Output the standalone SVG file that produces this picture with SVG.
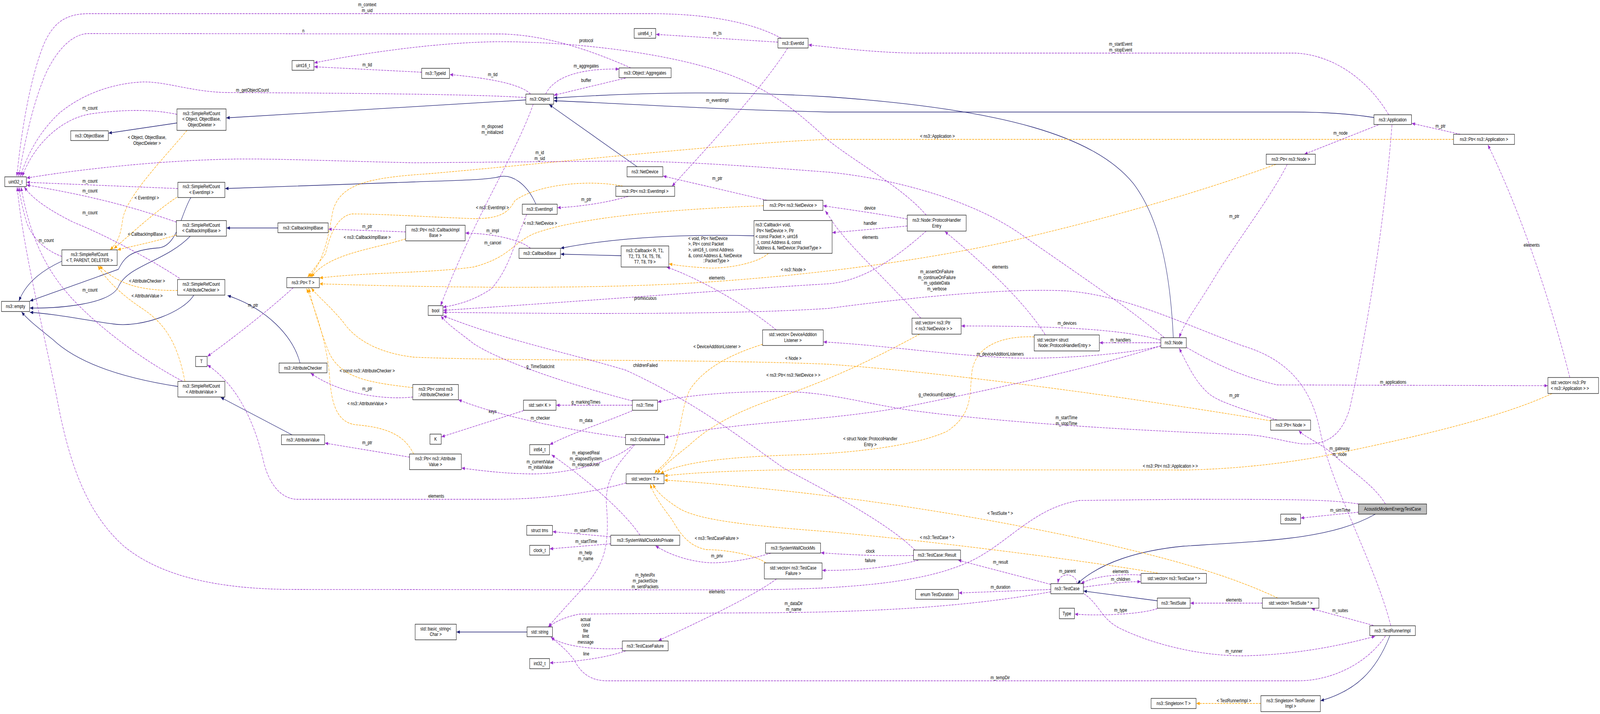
<svg xmlns="http://www.w3.org/2000/svg" width="5407" height="1829" viewBox="0 0 5407 1829" preserveAspectRatio="none">
<defs>
<style>
svg:root{width:100vw;height:100vh;display:block}
text{font-family:"Liberation Sans",Arial,Helvetica,sans-serif;font-size:13.33px;fill:#000}
.n rect{fill:#fff;stroke:#000;stroke-width:1.2}
.n text{text-anchor:middle}
.n text.l{text-anchor:start}
.n.g rect{fill:#bfbfbf}
#edges path{fill:none;stroke-width:1.3}
#edges .inh{stroke:#191970;marker-end:url(#mb)}
#edges .use{stroke:#9a32cd;stroke-dasharray:7,3;marker-end:url(#mp)}
#edges .tpl{stroke:#ffa500;stroke-dasharray:7,3;marker-end:url(#mo)}
#edges text{text-anchor:middle}
#edges text.l{text-anchor:start}
</style>
<marker id="mb" viewBox="0 0 10 8" refX="10" refY="4" markerWidth="11" markerHeight="9" markerUnits="userSpaceOnUse" orient="auto"><path d="M0,0L10,4L0,8z" fill="#191970"/></marker>
<marker id="mp" viewBox="0 0 10 8" refX="10" refY="4" markerWidth="11" markerHeight="9" markerUnits="userSpaceOnUse" orient="auto"><path d="M0,0L10,4L0,8z" fill="#9a32cd"/></marker>
<marker id="mo" viewBox="0 0 10 8" refX="10" refY="4" markerWidth="11" markerHeight="9" markerUnits="userSpaceOnUse" orient="auto"><path d="M0,0L10,4L0,8z" fill="#ffa500"/></marker>
</defs>
<rect width="5407" height="1829" fill="#fff"/>
<g id="edges">
<path class="inh" d="M598,315 L367,341"/>
<path class="inh" d="M1777,256 L765,302"/>
<path class="inh" d="M209,669 C150,690 90,720 64,771"/>
<path class="inh" d="M645,506 C610,550 600,630 536,635 C440,640 420,660 400,690 L101,771"/>
<path class="inh" d="M939,584 L766,584"/>
<path class="inh" d="M643,605 C560,670 430,680 400,735 C370,780 200,790 101,789"/>
<path class="inh" d="M655,756 C620,800 480,840 384,830 C300,822 200,805 101,800"/>
<path class="inh" d="M601,990 C430,970 270,935 179,870 C130,840 95,820 73,799"/>
<path class="inh" d="M1811,523 C1780,470 1730,445 1686,453 C1640,462 1500,463 1400,466 L761,483"/>
<path class="inh" d="M1014,930 C990,860 900,790 769,757"/>
<path class="inh" d="M987,1114 L746,1018"/>
<path class="inh" d="M2153,427 L1856,268"/>
<path class="inh" d="M3965,865 C3955,700 3920,560 3830,470 C3700,350 3400,280 2800,248 C2400,230 2100,240 1872,251"/>
<path class="inh" d="M4643,301 C4550,290 4450,287 4370,287 L2800,287 C2400,280 2100,265 1872,258"/>
<path class="inh" d="M2548,604 C2350,600 2100,605 1895,636"/>
<path class="inh" d="M2099,655 L1895,651"/>
<path class="inh" d="M4648,1317 C4500,1380 4300,1385 4000,1399 C3850,1410 3720,1440 3641,1495"/>
<path class="inh" d="M3911,1539 L3662,1514"/>
<path class="inh" d="M4697,1628 C4650,1720 4580,1770 4463,1795"/>
<path class="inh" d="M1781,1619 L1543,1619"/>
<path class="tpl" d="M632,334 C560,400 430,500 415,560 C408,600 400,620 372,640"/>
<text x="497" y="356.5">&lt; Object, ObjectBase,</text><text x="497" y="371.5">ObjectDeleter &gt;</text>
<path class="tpl" d="M598,505 C530,540 470,580 385,637"/>
<text x="496" y="511.5">&lt; EventImpl &gt;</text>
<path class="tpl" d="M596,602 C520,620 450,630 397,640"/>
<text x="497" y="604.5">&lt; CallbackImplBase &gt;</text>
<path class="tpl" d="M600,744 C480,745 400,730 336,681"/>
<text x="497" y="724.5">&lt; AttributeChecker &gt;</text>
<path class="tpl" d="M625,977 C600,880 560,830 480,790 C420,760 360,720 331,681"/>
<text x="497" y="762.5">&lt; AttributeValue &gt;</text>
<path class="tpl" d="M1371,612 C1250,640 1110,650 1052,710"/>
<text x="1241" y="612.5">&lt; ns3::CallbackImplBase &gt;</text>
<path class="tpl" d="M2105,477 C2000,460 1820,470 1740,514 C1720,540 1700,560 1605,560 C1500,558 1300,548 1188,548 C1140,555 1115,600 1100,650 L1040,710"/>
<text x="1664" y="536.5">&lt; ns3::EventImpl &gt;</text>
<path class="tpl" d="M2580,527 C2300,535 1950,555 1800,600 C1730,625 1720,660 1600,684 C1450,700 1250,697 1080,712"/>
<text x="1826" y="576.5">&lt; ns3::NetDevice &gt;</text>
<path class="tpl" d="M4312,421 C4100,480 3800,550 3400,620 C3100,670 2700,710 2293,727 C1900,742 1400,735 1080,727"/>
<text x="2681" y="695.5">&lt; ns3::Node &gt;</text>
<path class="tpl" d="M4912,357 L2800,357 C2500,365 1900,415 1450,445 C1250,455 1150,470 1125,540 C1110,600 1100,660 1046,710"/>
<text x="3168" y="353.5">&lt; ns3::Application &gt;</text>
<path class="tpl" d="M1395,993 C1250,980 1150,970 1110,900 C1080,840 1060,790 1043,738"/>
<text x="1241" y="954.5">&lt; const ns3::AttributeChecker &gt;</text>
<path class="tpl" d="M1398,1163 C1370,1120 1320,1095 1200,1088 C1130,1080 1120,1020 1114,968 C1108,900 1080,820 1036,739"/>
<text x="1241" y="1038.5">&lt; ns3::AttributeValue &gt;</text>
<path class="tpl" d="M4294,1078 C4000,1040 3300,960 2800,933 C2400,920 1700,925 1400,915 C1280,905 1200,870 1160,825 C1110,780 1075,760 1052,738"/>
<text x="2681" y="922.5">&lt; Node &gt;</text>
<path class="tpl" d="M2597,649 C2560,675 2450,690 2382,686 C2320,683 2290,680 2261,676"/>
<text class="l" x="2326" y="615.5">&lt; void, Ptr&lt; NetDevice</text><text class="l" x="2326" y="629.5">&gt;, Ptr&lt; const Packet</text><text class="l" x="2326" y="644.5">&gt;, uint16_t, const Address</text><text class="l" x="2326" y="659">&amp;, const Address &amp;, NetDevice</text><text x="2420" y="672.5">::PacketType &gt;</text>
<path class="tpl" d="M3495,863 C3400,860 3300,880 3285,950 C3275,1010 3290,1060 3200,1105 C3100,1140 2900,1160 2700,1165 C2450,1170 2300,1185 2232,1213"/>
<text x="2941" y="1128.5">&lt; struct Node::ProtocolHandler</text><text x="2941" y="1143.5">Entry &gt;</text>
<path class="tpl" d="M2577,882 C2480,905 2380,940 2330,1000 C2300,1050 2300,1120 2270,1165 C2250,1190 2225,1200 2212,1213"/>
<text x="2423" y="892.5">&lt; DeviceAdditionListener &gt;</text>
<path class="tpl" d="M3108,856 C3000,900 2850,960 2650,1013 C2500,1050 2400,1090 2330,1140 C2280,1170 2240,1195 2221,1213"/>
<text x="2681" y="965.5">&lt; ns3::Ptr&lt; ns3::NetDevice &gt; &gt;</text>
<path class="tpl" d="M5245,1008 C5100,1060 4850,1110 4500,1164 C4300,1195 4100,1203 4000,1204 L2700,1203 C2500,1205 2350,1210 2245,1219"/>
<text x="3955" y="1198.5">&lt; ns3::Ptr&lt; ns3::Application &gt; &gt;</text>
<path class="tpl" d="M3912,1468 C3700,1440 3200,1390 2800,1362 C2500,1345 2350,1330 2290,1300 C2240,1275 2220,1260 2206,1240"/>
<text x="3167" y="1381.5">&lt; ns3::TestCase * &gt;</text>
<path class="tpl" d="M2588,1442 C2550,1420 2450,1408 2388,1408 C2330,1400 2300,1370 2270,1330 C2240,1300 2210,1270 2197,1240"/>
<text x="2422" y="1383.5">&lt; ns3::TestCaseFailure &gt;</text>
<path class="tpl" d="M4318,1532 C4200,1490 4050,1450 3800,1405 C3500,1350 3000,1280 2500,1246 C2400,1238 2300,1232 2245,1230"/>
<text x="3380" y="1319.5">&lt; TestSuite * &gt;</text>
<path class="tpl" d="M4261,1802 L4043,1802"/>
<text x="4170" y="1799.5">&lt; TestRunnerImpl &gt;</text>
<path class="use" d="M2640,98 C2550,60 2400,35 2200,35 L300,35 C220,35 180,60 150,110 C100,200 70,350 57,452"/>
<text x="1241" y="16.5">m_context</text><text x="1241" y="31.5">m_uid</text>
<path class="use" d="M2132,174 C2000,130 1850,90 1695,87 L300,86 C250,86 200,120 160,180 C110,260 80,380 63,452"/>
<text x="1025" y="83.5">n</text>
<path class="use" d="M3130,551 C3050,480 2900,420 2800,360 C2700,290 2600,220 2400,175 C2200,130 1900,105 1668,107 C1450,110 1200,140 1062,161"/>
<text x="1981" y="108.5">protocol</text>
<path class="use" d="M1425,185 L1062,171"/>
<text x="1241" y="170.5">m_tid</text>
<path class="use" d="M1793,241 C1760,215 1650,200 1520,191"/>
<text x="1665" y="195.5">m_tid</text>
<path class="use" d="M1777,250 C1600,240 1000,238 768,237 C650,236 560,208 480,210 C380,214 280,240 200,290 C130,340 90,400 69,452"/>
<text x="853" y="235.5">m_getObjectCount</text>
<path class="use" d="M598,293 C520,280 420,280 313,291 C220,300 120,360 75,452"/>
<text x="304" y="281.5">m_count</text>
<path class="use" d="M3935,865 C3800,780 3600,680 3450,600 C3300,520 3050,460 2800,441 C2600,430 2300,410 2025,413 L1400,417 C1100,412 900,405 760,408 C550,412 300,430 90,456"/>
<text x="1824" y="395.5">m_id</text><text x="1824" y="410.5">m_sid</text>
<path class="use" d="M601,483 L90,467"/>
<text x="304" y="468.5">m_count</text>
<path class="use" d="M596,569 C450,530 300,500 90,474"/>
<text x="304" y="493.5">m_count</text>
<path class="use" d="M607,713 C500,660 350,600 250,570 C170,540 110,510 82,479"/>
<text x="304" y="549.5">m_count</text>
<path class="use" d="M209,657 C150,640 110,610 90,570 C75,530 67,500 64,479"/>
<text x="156" y="620.5">m_count</text>
<path class="use" d="M616,976 C500,930 350,850 250,770 C150,690 100,600 71,479"/>
<text x="304" y="747.5">m_count</text>
<path class="use" d="M4591,1291 C4500,1280 4400,1279 4000,1279 L3648,1282 C3500,1300 3420,1380 3300,1430 C3150,1490 2900,1510 2500,1511 L1000,1510 C750,1510 550,1480 420,1400 C300,1320 240,1200 200,1050 C150,850 80,650 58,479"/>
<text x="2180" y="1477.5">m_bytesRx</text><text x="2180" y="1492.5">m_packetSize</text><text x="2180" y="1507.5">m_sentPackets</text>
<path class="use" d="M2116,1237 C2000,1262 1850,1279 1670,1279 L1000,1279 C940,1275 905,1230 890,1180 C860,1080 800,985 701,935"/>
<text x="1474" y="1275.5">elements</text>
<path class="use" d="M991,737 C900,800 780,870 701,913"/>
<text x="855" y="786.5">m_ptr</text>
<path class="use" d="M1371,594 L1110,587"/>
<text x="1241" y="584.5">m_ptr</text>
<path class="use" d="M1793,636 C1750,610 1650,598 1573,597"/>
<text x="1665" y="595.5">m_impl</text>
<path class="use" d="M2123,503 C2050,520 1950,530 1884,532"/>
<text x="1981" y="515.5">m_ptr</text>
<path class="use" d="M2662,123 C2600,200 2450,330 2271,477"/>
<text x="2424" y="261.5">m_eventImpl</text>
<path class="use" d="M2629,108 L2217,88"/>
<text x="2424" y="89.5">m_ts</text>
<path class="use" d="M4693,294 C4620,200 4500,140 4377,136 L3095,136 C2950,135 2800,120 2732,115"/>
<text x="3787" y="117.5">m_startEvent</text><text x="3787" y="132.5">m_stopEvent</text>
<path class="use" d="M1844,241 C1870,200 1950,175 2092,177"/>
<text x="1981" y="173.5">m_aggregates</text>
<path class="use" d="M2114,200 L1872,244"/>
<text x="1981" y="210.5">buffer</text>
<path class="use" d="M1802,267 C1740,400 1600,560 1489,783"/>
<text x="1664" y="328.5">m_disposed</text><text x="1664" y="343.5">m_initialized</text>
<path class="use" d="M1780,549 C1740,620 1720,690 1660,740 C1600,770 1550,780 1497,787"/>
<text x="1665" y="626.5">m_cancel</text>
<path class="use" d="M3130,592 C3000,680 2900,720 2800,727 C2500,740 2000,770 1498,795"/>
<text x="2181" y="768.5">promiscuous</text>
<path class="use" d="M4700,1603 C4650,1450 4500,1250 4460,1100 C4430,990 4350,920 4200,886 C4000,830 3800,755 3600,745 C3400,738 3100,760 2800,790 C2500,805 2000,805 1498,800"/>
<text x="3166" y="700.5">m_assertOnFailure</text><text x="3166" y="715.5">m_continueOnFailure</text><text x="3166" y="729.5">m_updateData</text><text x="3166" y="744.5">m_verbose</text>
<path class="use" d="M3092,1409 C3000,1340 2800,1260 2650,1200 C2500,1120 2350,1030 2114,948 C1900,900 1700,870 1498,809"/>
<text x="2181" y="940.5">childrenFailed</text>
<path class="use" d="M2137,1027 C1950,990 1700,930 1600,880 C1550,850 1510,830 1490,809"/>
<text x="1826" y="943.5">g_TimeStaticInit</text>
<path class="use" d="M3923,886 C3700,940 3400,990 3068,1041 C2850,1072 2600,1080 2472,1093 C2380,1100 2300,1112 2247,1121"/>
<text x="3166" y="1015.5">g_checksumEnabled</text>
<path class="use" d="M2137,1052 C2050,1080 1930,1110 1858,1139"/>
<text x="1980" y="1081.5">m_data</text>
<path class="use" d="M2137,1038 L1880,1038"/>
<text x="1980" y="1034.5">g_markingTimes</text>
<path class="use" d="M1769,1052 L1492,1119"/>
<text x="1665" y="1058.5">keys</text>
<path class="use" d="M2114,1121 C1950,1105 1700,1070 1549,1024"/>
<text x="1826" y="1075.5">m_checker</text>
<path class="use" d="M1395,1017 C1300,1025 1150,1010 1050,956"/>
<text x="1241" y="1000.5">m_ptr</text>
<path class="use" d="M1384,1171 L1098,1135"/>
<text x="1241" y="1138.5">m_ptr</text>
<path class="use" d="M2141,1139 C2060,1190 1900,1215 1794,1214 C1700,1213 1620,1205 1560,1199"/>
<text x="1826" y="1187.5">m_currentValue</text><text x="1826" y="1201.5">m_initialValue</text>
<path class="use" d="M2145,1139 C2100,1180 2040,1220 2050,1300 C2060,1400 2040,1440 1990,1490 C1930,1540 1880,1580 1853,1606"/>
<text x="1979" y="1420.5">m_help</text><text x="1979" y="1435.5">m_name</text>
<path class="use" d="M2163,1371 C2100,1300 1950,1210 1864,1165"/>
<text x="1980" y="1164.5">m_elapsedReal</text><text x="1980" y="1179.5">m_elapsedSystem</text><text x="1980" y="1194.5">m_elapsedUser</text>
<path class="use" d="M2064,1375 L1868,1362"/>
<text x="1981" y="1363.5">m_startTimes</text>
<path class="use" d="M2064,1393 L1858,1406"/>
<text x="1981" y="1391.5">m_startTime</text>
<path class="use" d="M2605,1417 C2550,1430 2450,1445 2388,1441 C2320,1436 2260,1420 2215,1398"/>
<text x="2423" y="1428.5">m_priv</text>
<path class="use" d="M3087,1423 C2950,1425 2850,1420 2774,1416"/>
<text x="2941" y="1416.5">clock</text>
<path class="use" d="M3103,1435 C3000,1455 2880,1462 2779,1461"/>
<text x="2941" y="1440.5">failure</text>
<path class="use" d="M2624,1483 C2560,1520 2400,1580 2225,1641"/>
<text x="2423" y="1520.5">elements</text>
<path class="use" d="M2103,1661 C2000,1665 1900,1655 1862,1632"/>
<text x="1979" y="1591.5">actual</text><text x="1979" y="1605.5">cond</text><text x="1979" y="1620">file</text><text x="1979" y="1634.5">limit</text><text x="1979" y="1649.5">message</text>
<path class="use" d="M2115,1667 C2050,1685 1950,1695 1858,1698"/>
<text x="1981" y="1679.5">line</text>
<path class="use" d="M3551,1516 C3300,1550 3000,1570 2500,1570 L1960,1573 C1920,1578 1880,1590 1853,1606"/>
<text x="2682" y="1550.5">m_dataDir</text><text x="2682" y="1565.5">m_name</text>
<path class="use" d="M4682,1629 C4620,1700 4500,1744 4386,1744 L2053,1744 C1990,1744 1960,1720 1940,1690 C1910,1660 1880,1645 1862,1632"/>
<text x="3380" y="1740.5">m_tempDir</text>
<path class="use" d="M3663,1521 C3720,1550 3720,1590 3800,1615 C3900,1650 4050,1680 4200,1680 C4350,1678 4500,1660 4647,1630"/>
<text x="4170" y="1672.5">m_runner</text>
<path class="use" d="M4641,1602 L4432,1559"/>
<text x="4529" y="1568.5">m_suites</text>
<path class="use" d="M4266,1545 L4023,1545"/>
<text x="4170" y="1541.5">elements</text>
<path class="use" d="M3911,1559 C3850,1575 3700,1578 3632,1573"/>
<text x="3787" y="1567.5">m_type</text>
<path class="use" d="M3551,1510 L3240,1519"/>
<text x="3381" y="1508.5">m_duration</text>
<path class="use" d="M3551,1497 L3238,1435"/>
<text x="3381" y="1444.5">m_result</text>
<path class="use" d="M3639,1495 C3640,1468 3580,1463 3575,1494"/>
<text x="3607" y="1467.5">m_parent</text>
<path class="use" d="M3661,1504 C3750,1495 3800,1490 3855,1490"/>
<text x="3787" y="1488.5">m_children</text>
<path class="use" d="M3856,1473 C3780,1470 3700,1475 3653,1495"/>
<text x="3787" y="1468.5">elements</text>
<path class="use" d="M4591,1312 L4396,1327"/>
<text x="4529" y="1311.5">m_simTime</text>
<path class="use" d="M4682,1291 C4640,1240 4570,1210 4500,1160 C4450,1130 4410,1120 4389,1103"/>
<text x="4527" y="1153.5">m_gateway</text><text x="4527" y="1168.5">m_node</text>
<path class="use" d="M4316,1076 C4200,1048 4120,1030 4086,1009 C4040,980 4010,930 3985,892"/>
<text x="4171" y="1017.5">m_ptr</text>
<path class="use" d="M4350,421 C4300,500 4150,650 4095,723 C4040,790 4000,830 3985,865"/>
<text x="4171" y="558.5">m_ptr</text>
<path class="use" d="M4658,320 L4408,395"/>
<text x="4530" y="345.5">m_node</text>
<path class="use" d="M4935,344 L4771,316"/>
<text x="4868" y="327.5">m_ptr</text>
<path class="use" d="M5305,967 C5250,800 5150,560 5028,371"/>
<text x="5176" y="632.5">elements</text>
<path class="use" d="M4010,890 C4100,930 4200,966 4316,986 L5230,988"/>
<text x="4708" y="983.5">m_applications</text>
<path class="use" d="M3921,871 C3800,845 3600,835 3249,835"/>
<text x="3606" y="832.5">m_devices</text>
<path class="use" d="M3923,878 L3716,878"/>
<text x="3787" y="875.5">m_handlers</text>
<path class="use" d="M3923,886 C3800,910 3550,920 3425,917 C3200,910 3000,885 2783,876"/>
<text x="3380" y="911.5">m_deviceAdditionListeners</text>
<path class="use" d="M3112,815 C3000,720 2870,630 2820,575 L2789,540"/>
<text x="2941" y="612.5">elements</text>
<path class="use" d="M2592,513 L2241,451"/>
<text x="2424" y="461.5">m_ptr</text>
<path class="use" d="M3066,561 C2950,545 2850,535 2782,527"/>
<text x="2940" y="537.5">device</text>
<path class="use" d="M3066,579 L2813,596"/>
<text x="2941" y="576.5">handler</text>
<path class="use" d="M3532,857 C3450,760 3300,660 3193,593"/>
<text x="3380" y="688.5">elements</text>
<path class="use" d="M2623,845 C2500,770 2350,710 2253,684"/>
<text x="2423" y="716.5">elements</text>
<path class="use" d="M4704,320 C4680,560 4620,850 4560,1050 C4530,1120 4480,1140 4400,1137 C4330,1130 4280,1115 4200,1113 C3900,1105 3400,1085 3068,1050 C2900,1030 2800,1005 2650,1003 C2450,1002 2300,1015 2223,1030"/>
<text x="3604" y="1074.5">m_startTime</text><text x="3604" y="1089.5">m_stopTime</text>
</g>
<g id="nodes">
<g class="n" id="n-uint32"><rect x="16" y="453" width="73" height="25"/><text x="52.5" y="470">uint32_t</text></g>
<g class="n" id="n-uint16"><rect x="987" y="155" width="74" height="25"/><text x="1024" y="172">uint16_t</text></g>
<g class="n" id="n-objectbase"><rect x="239" y="335" width="127" height="25"/><text x="302.5" y="352">ns3::ObjectBase</text></g>
<g class="n" id="n-src-object"><rect x="598" y="279" width="166" height="55"/><text x="681" y="295">ns3::SimpleRefCount</text><text x="681" y="309.5">&lt; Object, ObjectBase,</text><text x="681" y="324.5">ObjectDeleter &gt;</text></g>
<g class="n" id="n-src-eventimpl"><rect x="601" y="467" width="159" height="39"/><text x="680.5" y="482.5">ns3::SimpleRefCount</text><text x="680.5" y="497">&lt; EventImpl &gt;</text></g>
<g class="n" id="n-src-cbib"><rect x="596" y="565" width="169" height="40"/><text x="680.5" y="581">ns3::SimpleRefCount</text><text x="680.5" y="595.5">&lt; CallbackImplBase &gt;</text></g>
<g class="n" id="n-cbib"><rect x="939" y="571" width="170" height="25"/><text x="1024" y="588">ns3::CallbackImplBase</text></g>
<g class="n" id="n-ptr-cbib"><rect x="1371" y="577" width="201" height="40"/><text x="1471.5" y="593">ns3::Ptr&lt; ns3::CallbackImpl</text><text x="1471.5" y="607.5">Base &gt;</text></g>
<g class="n" id="n-uint64"><rect x="2143" y="73" width="73" height="25"/><text x="2179.5" y="90">uint64_t</text></g>
<g class="n" id="n-eventid"><rect x="2629" y="98" width="102" height="25"/><text x="2680" y="115">ns3::EventId</text></g>
<g class="n" id="n-typeid"><rect x="1425" y="175" width="94" height="26"/><text x="1472" y="192.5">ns3::TypeId</text></g>
<g class="n" id="n-aggregates"><rect x="2092" y="174" width="176" height="25"/><text x="2180" y="191">ns3::Object::Aggregates</text></g>
<g class="n" id="n-object"><rect x="1777" y="241" width="94" height="26"/><text x="1824" y="258.5">ns3::Object</text></g>
<g class="n" id="n-netdevice"><rect x="2119" y="427" width="121" height="26"/><text x="2179.5" y="444.5">ns3::NetDevice</text></g>
<g class="n" id="n-ptr-eventimpl"><rect x="2081" y="477" width="199" height="26"/><text x="2180.5" y="494.5">ns3::Ptr&lt; ns3::EventImpl &gt;</text></g>
<g class="n" id="n-eventimpl"><rect x="1765" y="523" width="118" height="26"/><text x="1824" y="540.5">ns3::EventImpl</text></g>
<g class="n" id="n-ptr-netdevice"><rect x="2580" y="513" width="201" height="26"/><text x="2680.5" y="530.5">ns3::Ptr&lt; ns3::NetDevice &gt;</text></g>
<g class="n" id="n-callback-void"><rect x="2548" y="565" width="264" height="84"/><text class="l" x="2553" y="580.5">ns3::Callback&lt; void,</text><text class="l" x="2557" y="595.5">Ptr&lt; NetDevice &gt;, Ptr</text><text class="l" x="2553" y="610.5">&lt; const Packet &gt;, uint16</text><text class="l" x="2553" y="625.5">_t, const Address &amp;, const</text><text class="l" x="2557" y="639.5">Address &amp;, NetDevice::PacketType &gt;</text></g>
<g class="n" id="n-callbackbase"><rect x="1754" y="636" width="140" height="26"/><text x="1824" y="653.5">ns3::CallbackBase</text></g>
<g class="n" id="n-callback-r"><rect x="2099" y="630" width="161" height="54"/><text x="2179.5" y="646">ns3::Callback&lt; R, T1,</text><text x="2179.5" y="661">T2, T3, T4, T5, T6,</text><text x="2179.5" y="675">T7, T8, T9 &gt;</text></g>
<g class="n" id="n-bool"><rect x="1447" y="783" width="50" height="25"/><text x="1472" y="800">bool</text></g>
<g class="n" id="n-vec-dal"><rect x="2577" y="845" width="205" height="40"/><text x="2679.5" y="861">std::vector&lt; DeviceAddition</text><text x="2679.5" y="876">Listener &gt;</text></g>
<g class="n" id="n-ptr-const-ac"><rect x="1395" y="985" width="154" height="39"/><text x="1472" y="1001">ns3::Ptr&lt; const ns3</text><text x="1472" y="1015.5">::AttributeChecker &gt;</text></g>
<g class="n" id="n-set-k"><rect x="1769" y="1025" width="110" height="26"/><text x="1824" y="1042.5">std::set&lt; K &gt;</text></g>
<g class="n" id="n-time"><rect x="2137" y="1025" width="85" height="26"/><text x="2179.5" y="1042.5">ns3::Time</text></g>
<g class="n" id="n-k"><rect x="1453" y="1112" width="38" height="26"/><text x="1472" y="1129.5">K</text></g>
<g class="n" id="n-globalvalue"><rect x="2114" y="1113" width="132" height="26"/><text x="2180" y="1130.5">ns3::GlobalValue</text></g>
<g class="n" id="n-int64"><rect x="1790" y="1139" width="67" height="26"/><text x="1823.5" y="1156.5">int64_t</text></g>
<g class="n" id="n-ptr-av"><rect x="1384" y="1163" width="175" height="40"/><text x="1471.5" y="1179">ns3::Ptr&lt; ns3::Attribute</text><text x="1471.5" y="1194">Value &gt;</text></g>
<g class="n" id="n-src-t"><rect x="209" y="640" width="187" height="40"/><text x="302.5" y="656.5">ns3::SimpleRefCount</text><text x="302.5" y="671.5">&lt; T, PARENT, DELETER &gt;</text></g>
<g class="n" id="n-empty"><rect x="5" y="772" width="95" height="26"/><text x="52.5" y="789.5">ns3::empty</text></g>
<g class="n" id="n-src-ac"><rect x="600" y="716" width="160" height="40"/><text x="680" y="732">ns3::SimpleRefCount</text><text x="680" y="747">&lt; AttributeChecker &gt;</text></g>
<g class="n" id="n-ptr-t"><rect x="969" y="711" width="110" height="26"/><text x="1024" y="728.5">ns3::Ptr&lt; T &gt;</text></g>
<g class="n" id="n-t"><rect x="661" y="913" width="39" height="26"/><text x="680.5" y="930.5">T</text></g>
<g class="n" id="n-ac"><rect x="943" y="930" width="162" height="25"/><text x="1024" y="947">ns3::AttributeChecker</text></g>
<g class="n" id="n-src-av"><rect x="601" y="977" width="159" height="40"/><text x="680.5" y="993">ns3::SimpleRefCount</text><text x="680.5" y="1008">&lt; AttributeValue &gt;</text></g>
<g class="n" id="n-av"><rect x="951" y="1114" width="146" height="25"/><text x="1024" y="1131">ns3::AttributeValue</text></g>
<g class="n" id="n-phe"><rect x="3066" y="551" width="199" height="41"/><text x="3165.5" y="568">ns3::Node::ProtocolHandler</text><text x="3165.5" y="583">Entry</text></g>
<g class="n" id="n-vec-ptr-nd"><rect x="3082" y="815" width="166" height="41"/><text class="l" x="3093" y="831.5">std::vector&lt; ns3::Ptr</text><text class="l" x="3093" y="846.5">&lt; ns3::NetDevice &gt; &gt;</text></g>
<g class="n" id="n-vec-phe"><rect x="3495" y="858" width="220" height="41"/><text class="l" x="3505" y="875.5">std::vector&lt; struct</text><text class="l" x="3509" y="889.5">Node::ProtocolHandlerEntry &gt;</text></g>
<g class="n" id="n-node"><rect x="3923" y="865" width="86" height="26"/><text x="3966" y="882.5">ns3::Node</text></g>
<g class="n" id="n-application"><rect x="4643" y="294" width="127" height="25"/><text x="4706.5" y="311">ns3::Application</text></g>
<g class="n" id="n-ptr-app"><rect x="4912" y="344" width="206" height="26"/><text x="5015" y="361.5">ns3::Ptr&lt; ns3::Application &gt;</text></g>
<g class="n" id="n-ptr-ns3node"><rect x="4279" y="395" width="166" height="26"/><text x="4362" y="412.5">ns3::Ptr&lt; ns3::Node &gt;</text></g>
<g class="n" id="n-vec-ptr-app"><rect x="5231" y="967" width="171" height="41"/><text class="l" x="5241" y="984">std::vector&lt; ns3::Ptr</text><text class="l" x="5241" y="999">&lt; ns3::Application &gt; &gt;</text></g>
<g class="n" id="n-ptr-node"><rect x="4294" y="1076" width="135" height="26"/><text x="4361.5" y="1093.5">ns3::Ptr&lt; Node &gt;</text></g>
<g class="n" id="n-vec-t"><rect x="2116" y="1214" width="128" height="25"/><text x="2180" y="1231">std::vector&lt; T &gt;</text></g>
<g class="n" id="n-tms"><rect x="1780" y="1346" width="87" height="25"/><text x="1823.5" y="1363">struct tms</text></g>
<g class="n" id="n-clock"><rect x="1790" y="1397" width="67" height="25"/><text x="1823.5" y="1414">clock_t</text></g>
<g class="n" id="n-swcmp"><rect x="2064" y="1371" width="233" height="26"/><text x="2180.5" y="1388.5">ns3::SystemWallClockMsPrivate</text></g>
<g class="n" id="n-basic-string"><rect x="1403" y="1599" width="139" height="40"/><text x="1472.5" y="1615">std::basic_string&lt;</text><text x="1472.5" y="1629.5">Char &gt;</text></g>
<g class="n" id="n-string"><rect x="1781" y="1606" width="86" height="25"/><text x="1824" y="1623">std::string</text></g>
<g class="n" id="n-tcf"><rect x="2103" y="1642" width="155" height="25"/><text x="2180.5" y="1659">ns3::TestCaseFailure</text></g>
<g class="n" id="n-int32"><rect x="1790" y="1687" width="67" height="26"/><text x="1823.5" y="1704.5">int32_t</text></g>
<g class="n" id="n-swcm"><rect x="2587" y="1391" width="186" height="26"/><text x="2680" y="1408.5">ns3::SystemWallClockMs</text></g>
<g class="n" id="n-vec-tcf"><rect x="2583" y="1442" width="195" height="41"/><text x="2680.5" y="1459">std::vector&lt; ns3::TestCase</text><text x="2680.5" y="1473">Failure &gt;</text></g>
<g class="n" id="n-result"><rect x="3087" y="1409" width="159" height="25"/><text x="3166.5" y="1426">ns3::TestCase::Result</text></g>
<g class="n" id="n-duration"><rect x="3094" y="1510" width="145" height="25"/><text x="3166.5" y="1527">enum TestDuration</text></g>
<g class="n" id="n-testcase"><rect x="3551" y="1495" width="110" height="26"/><text x="3606" y="1512.5">ns3::TestCase</text></g>
<g class="n" id="n-type"><rect x="3580" y="1558" width="51" height="27"/><text x="3605.5" y="1576">Type</text></g>
<g class="n" id="n-vec-tc"><rect x="3856" y="1469" width="221" height="25"/><text x="3966.5" y="1486">std::vector&lt; ns3::TestCase * &gt;</text></g>
<g class="n" id="n-testsuite"><rect x="3911" y="1532" width="111" height="26"/><text x="3966.5" y="1549.5">ns3::TestSuite</text></g>
<g class="n" id="n-singleton-t"><rect x="3890" y="1789" width="152" height="26"/><text x="3966" y="1806.5">ns3::Singleton&lt; T &gt;</text></g>
<g class="n g" id="n-amet"><rect x="4591" y="1291" width="230" height="26"/><text x="4706" y="1308.5">AcousticModemEnergyTestCase</text></g>
<g class="n" id="n-double"><rect x="4328" y="1317" width="67" height="25"/><text x="4361.5" y="1334">double</text></g>
<g class="n" id="n-vec-ts"><rect x="4266" y="1532" width="191" height="26"/><text x="4361.5" y="1549.5">std::vector&lt; TestSuite * &gt;</text></g>
<g class="n" id="n-runner"><rect x="4629" y="1603" width="154" height="25"/><text x="4706" y="1620">ns3::TestRunnerImpl</text></g>
<g class="n" id="n-singleton-tri"><rect x="4261" y="1782" width="201" height="41"/><text x="4361.5" y="1799">ns3::Singleton&lt; TestRunner</text><text x="4361.5" y="1813">Impl &gt;</text></g>
</g>
</svg>
